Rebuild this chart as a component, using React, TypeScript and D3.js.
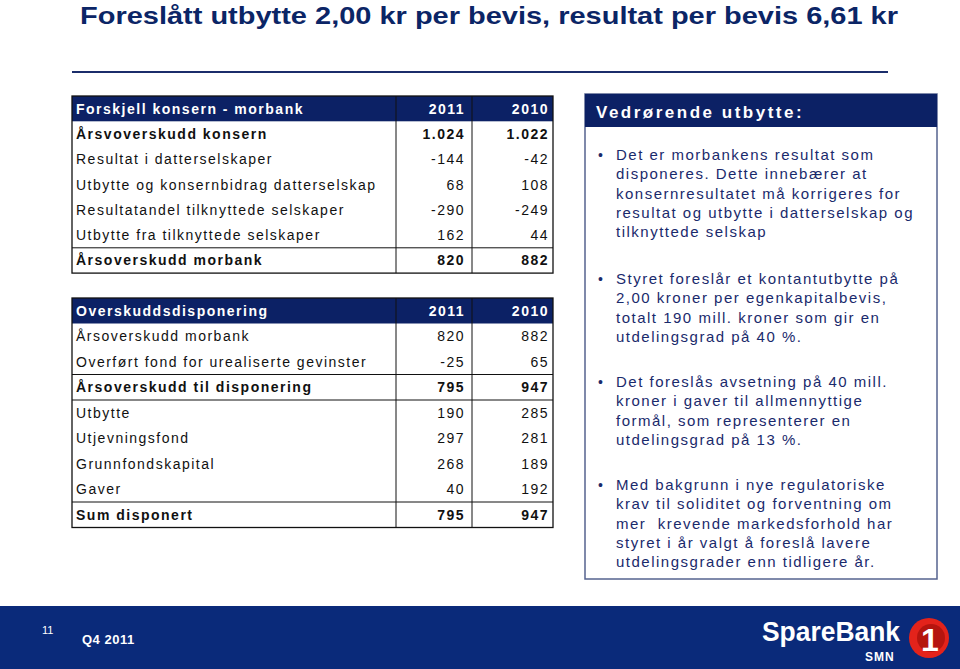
import React from "react";
import * as d3 from "d3";

const title = "Foreslått utbytte 2,00 kr per bevis, resultat per bevis 6,61 kr";

const t1Header = ["Forskjell konsern - morbank", "2011", "2010"];
const t1Labels = [
  "Årsvoverskudd konsern",
  "Resultat i datterselskaper",
  "Utbytte og konsernbidrag datterselskap",
  "Resultatandel tilknyttede selskaper",
  "Utbytte fra tilknyttede selskaper",
  "Årsoverskudd morbank",
];
const t1Values2011 = ["1.024", "-144", "68", "-290", "162", "820"];
const t1Values2010 = ["1.022", "-42", "108", "-249", "44", "882"];
const t1Bold = [true, false, false, false, false, true];
const t1LinesAfter = [4];

const t2Header = ["Overskuddsdisponering", "2011", "2010"];
const t2Labels = [
  "Årsoverskudd morbank",
  "Overført fond for urealiserte gevinster",
  "Årsoverskudd til disponering",
  "Utbytte",
  "Utjevningsfond",
  "Grunnfondskapital",
  "Gaver",
  "Sum disponert",
];
const t2Values2011 = ["820", "-25", "795", "190", "297", "268", "40", "795"];
const t2Values2010 = ["882", "65", "947", "285", "281", "189", "192", "947"];
const t2Bold = [false, false, true, false, false, false, false, true];
const t2LinesAfter = [1, 2, 6];

const boxTitle = "Vedrørende utbytte:";
const bullets = [
  [
    "Det er morbankens resultat som",
    "disponeres. Dette innebærer at",
    "konsernresultatet må korrigeres for",
    "resultat og utbytte i datterselskap og",
    "tilknyttede selskap",
  ],
  [
    "Styret foreslår et kontantutbytte på",
    "2,00 kroner per egenkapitalbevis,",
    "totalt 190 mill. kroner som gir en",
    "utdelingsgrad på 40 %.",
  ],
  [
    "Det foreslås avsetning på 40 mill.",
    "kroner i gaver til allmennyttige",
    "formål, som representerer en",
    "utdelingsgrad på 13 %.",
  ],
  [
    "Med bakgrunn i nye regulatoriske",
    "krav til soliditet og forventning om",
    "mer  krevende markedsforhold har",
    "styret i år valgt å foreslå lavere",
    "utdelingsgrader enn tidligere år.",
  ],
];

const footerPage = "11";
const footerPeriod = "Q4 2011";

const NAVY = "#0c2165";
const TEXTNAVY = "#1a2a6c";
const FONT = "'Liberation Sans', Arial, sans-serif";

type TableProps = {
  top: number;
  rowH: number;
  header: string[];
  labels: string[];
  v1: string[];
  v2: string[];
  bold: boolean[];
  linesAfter: number[];
};

function Table({ top, rowH, header, labels, v1, v2, bold, linesAfter }: TableProps) {
  const n = labels.length + 1;
  const y = d3.scaleLinear().domain([0, n]).range([top, top + rowH * n]);
  const left = 72, sep1 = 396, sep2 = 472, right = 553;
  const ts = { fontFamily: FONT, fontSize: 14, letterSpacing: 1.5 } as const;
  return (
    <g>
      <rect x={left} y={y(0)} width={right - left} height={rowH} fill={NAVY} />
      <text x={76} y={y(0.5) + 5} fill="#fff" fontWeight="bold" style={ts}>{header[0]}</text>
      <text x={465} y={y(0.5) + 5} fill="#fff" fontWeight="bold" textAnchor="end" style={ts}>{header[1]}</text>
      <text x={549} y={y(0.5) + 5} fill="#fff" fontWeight="bold" textAnchor="end" style={ts}>{header[2]}</text>
      {labels.map((l, i) => (
        <g key={i}>
          <text x={76} y={y(i + 1.5) + 5} fill="#111" fontWeight={bold[i] ? "bold" : "normal"} style={ts}>{l}</text>
          <text x={465} y={y(i + 1.5) + 5} fill="#111" fontWeight={bold[i] ? "bold" : "normal"} textAnchor="end" style={ts}>{v1[i]}</text>
          <text x={549} y={y(i + 1.5) + 5} fill="#111" fontWeight={bold[i] ? "bold" : "normal"} textAnchor="end" style={ts}>{v2[i]}</text>
        </g>
      ))}
      {linesAfter.map((i) => (
        <line key={i} x1={left} x2={right} y1={y(i + 2)} y2={y(i + 2)} stroke="#111" strokeWidth={1} />
      ))}
      <line x1={sep1} x2={sep1} y1={y(0)} y2={y(n)} stroke="#111" strokeWidth={1} />
      <line x1={sep2} x2={sep2} y1={y(0)} y2={y(n)} stroke="#111" strokeWidth={1} />
      <rect x={left} y={y(0)} width={right - left} height={y(n) - y(0)} fill="none" stroke="#111" strokeWidth={1.3} />
    </g>
  );
}

export default function App() {
  const lineH = 19.3;
  const bulletStarts = [155, 279, 382, 485];
  return (
    <svg width={960} height={669} style={{ position: "absolute", left: 0, top: 0, background: "#fff" }}>
      <rect x={0} y={0} width={960} height={669} fill="#fff" />
      <text x={80} y={24} fill="#0b2566" fontWeight="bold" textLength={818} lengthAdjust="spacingAndGlyphs"
        style={{ fontFamily: FONT, fontSize: 24 }}>{title}</text>
      <line x1={72} x2={888} y1={72} y2={72} stroke="#1b2d6b" strokeWidth={2} />

      <Table top={96} rowH={25.3} header={t1Header} labels={t1Labels} v1={t1Values2011} v2={t1Values2010}
        bold={t1Bold} linesAfter={t1LinesAfter} />
      <Table top={298} rowH={25.5} header={t2Header} labels={t2Labels} v1={t2Values2011} v2={t2Values2010}
        bold={t2Bold} linesAfter={t2LinesAfter} />

      <rect x={585} y={94} width={352} height={485} fill="#fff" stroke="#55638f" strokeWidth={1.5} />
      <rect x={585} y={94} width={352} height={33} fill={NAVY} />
      <text x={596} y={118} fill="#fff" fontWeight="bold" style={{ fontFamily: FONT, fontSize: 17, letterSpacing: 2.5 }}>{boxTitle}</text>
      {bullets.map((lines, b) => (
        <g key={b}>
          <text x={598} y={bulletStarts[b] + 5} fill={TEXTNAVY} style={{ fontFamily: FONT, fontSize: 14 }}>•</text>
          {lines.map((l, i) => (
            <text key={i} x={616} y={bulletStarts[b] + i * lineH + 5} fill={TEXTNAVY}
              style={{ fontFamily: FONT, fontSize: 15, letterSpacing: 1.5, whiteSpace: "pre" }}>{l}</text>
          ))}
        </g>
      ))}

      <rect x={0} y={606} width={960} height={63} fill="#0a2a7a" />
      <text x={42} y={634} fill="#fff" style={{ fontFamily: FONT, fontSize: 11 }}>{footerPage}</text>
      <text x={82} y={644} fill="#fff" fontWeight="bold" style={{ fontFamily: FONT, fontSize: 13, letterSpacing: 0.5 }}>{footerPeriod}</text>
      <text x={762} y={641} fill="#fff" fontWeight="bold" textLength={138} lengthAdjust="spacingAndGlyphs"
        style={{ fontFamily: FONT, fontSize: 27 }}>SpareBank</text>
      <text x={865} y={661} fill="#fff" fontWeight="bold" style={{ fontFamily: FONT, fontSize: 12, letterSpacing: 1 }}>SMN</text>
      <circle cx={929} cy={638} r={20} fill="#e3231b" />
      <circle cx={931} cy={638} r={14} fill="#b5150f" />
      <text x={930} y={651} fill="#fff" fontWeight="bold" textAnchor="middle" style={{ fontFamily: FONT, fontSize: 32 }}>1</text>
    </svg>
  );
}
